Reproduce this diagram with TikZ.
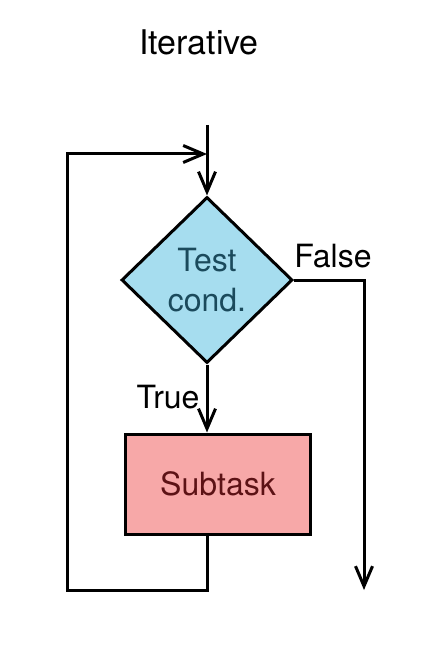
\documentclass[tikz,border=0pt]{standalone}
\usepackage{fontspec}
\setmainfont{TeX Gyre Heros}
\usetikzlibrary{shapes.geometric,arrows.meta}
\definecolor{condfill}{RGB}{166,221,239}
\definecolor{condtext}{RGB}{27,74,92}
\definecolor{taskfill}{RGB}{247,168,168}
\definecolor{tasktext}{RGB}{92,18,21}
\begin{document}
\begin{tikzpicture}[x=1pt, y=-1pt, line width=3pt,
	flow/.style={-{Straight Barb[length=20pt,width=17pt]}},
	lbl/.style={font=\fontsize{32}{40}\selectfont, inner sep=0pt}]
	\useasboundingbox (0,0) rectangle (442,652);
	%title
	\node[font=\fontsize{34}{40}\selectfont] (title) at (199,42){Iterative};

	%decision
	\node[diamond, draw, fill=condfill, text=condtext, lbl, align=center,
		minimum width=171pt, minimum height=166pt] (test) at (207,280){Test\\cond.};
	\node[lbl] (false) at (333,256){False};
	\node[lbl] (true) at (168,397){True};

	%body
	\node[rectangle, draw, fill=taskfill, text=tasktext, lbl,
		minimum width=185pt, minimum height=100pt] (sub) at (218,484){Subtask};

	\coordinate (top) at (207,125);
	\coordinate (join) at (207,154);
	\coordinate (exit) at (364,590);
	\coordinate (loop) at (67,590);

	\draw[flow] (top) -- (test.north);
	\draw[flow] (test.south) -- (test.south |- sub.north);
	\draw[flow] (test.east) -| (exit);
	\draw[flow] (sub.south -| test.south) |- (loop) |- (join);
\end{tikzpicture}
\end{document}
